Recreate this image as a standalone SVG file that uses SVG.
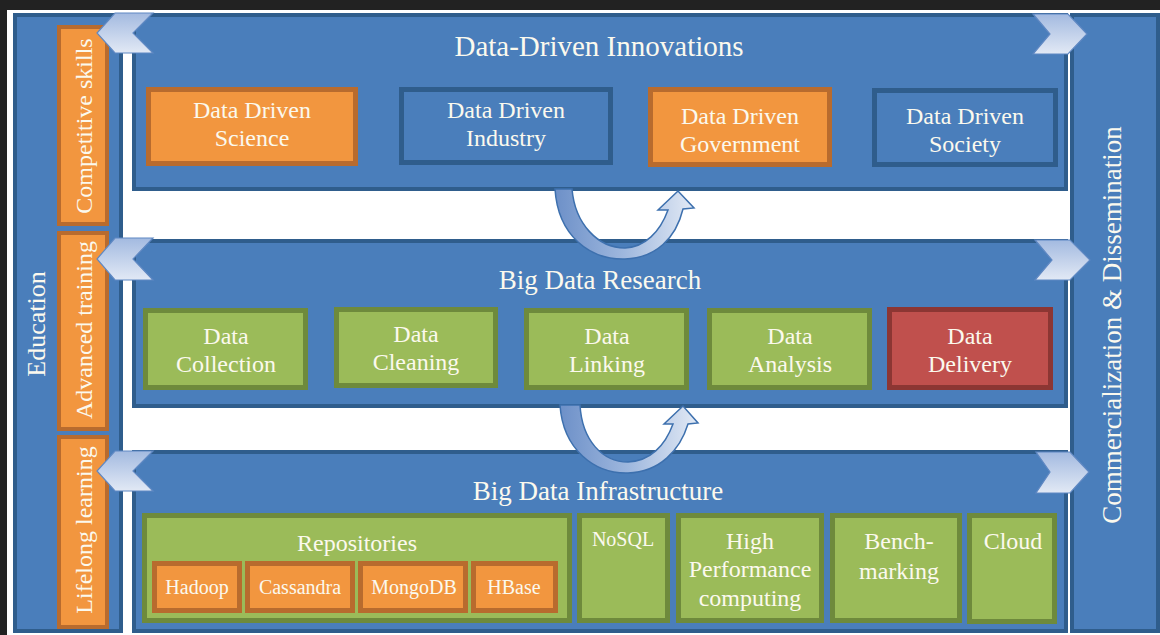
<svg xmlns="http://www.w3.org/2000/svg" width="1160" height="635" viewBox="0 0 1160 635">
<defs>
<linearGradient id="chev" x1="0" y1="0" x2="0" y2="1">
<stop offset="0" stop-color="#a3bae0"/>
<stop offset="1" stop-color="#e2e9f5"/>
</linearGradient>
<linearGradient id="uarr" x1="0" y1="0" x2="1" y2="0">
<stop offset="0" stop-color="#6d90c8"/>
<stop offset="0.5" stop-color="#9fb8de"/>
<stop offset="1" stop-color="#e3eaf5"/>
</linearGradient>
<style>
.panel{fill:#4a7ebb;stroke:#2f5d8c;stroke-width:4}
.col{fill:#4a7ebb;stroke:#2f5d8c;stroke-width:4}
.blue{fill:#4a7ebb;stroke:#2f5d8c;stroke-width:5}
.orange{fill:#f2963f;stroke:#b86b2e;stroke-width:5}
.green{fill:#9bbb59;stroke:#6e8a3c;stroke-width:5}
.red{fill:#c0504d;stroke:#8c3633;stroke-width:5}
.chev{fill:url(#chev);stroke:#5f88c3;stroke-width:1.2}
.uarr{fill:url(#uarr);stroke:#3d70ae;stroke-width:1.5}
text{font-family:"Liberation Serif","Times New Roman",serif;fill:#fbf9ee;text-anchor:middle}
.t{font-size:24px}
.s{font-size:20px}
.h{font-size:27px}
</style>
</defs>
<rect x="0" y="0" width="1160" height="635" fill="#222222"/>
<rect x="7" y="10" width="1153" height="625" fill="#ffffff"/>

<g id="education">
<rect class="col" x="15" y="15" width="106" height="616"/>
<text class="t" style="font-size:26px" transform="translate(45,324) rotate(-90)">Education</text>
</g>
<g id="competitive-skills">
<rect class="orange" x="59" y="27" width="48" height="197" style="stroke-width:4"/>
<text class="t" transform="translate(92,126) rotate(-90)">Competitive skills</text>
</g>
<g id="advanced-training">
<rect class="orange" x="59" y="233" width="48" height="196" style="stroke-width:4"/>
<text class="t" transform="translate(92,330) rotate(-90)">Advanced training</text>
</g>
<g id="lifelong-learning">
<rect class="orange" x="59" y="437" width="48" height="190" style="stroke-width:4"/>
<text class="t" transform="translate(92,530) rotate(-90)">Lifelong learning</text>
</g>

<g id="commercialization">
<rect class="col" x="1072" y="15" width="86" height="616"/>
<text class="t" style="font-size:27px" transform="translate(1121,325) rotate(-90)">Commercialization &amp; Dissemination</text>
</g>

<g id="data-driven-innovations">
<rect class="panel" x="134" y="15" width="932" height="174"/>
<text class="h" style="font-size:29px" x="599" y="56">Data-Driven Innovations</text>
</g>
<g id="big-data-research">
<rect class="panel" x="134" y="241" width="932" height="165"/>
<text class="h" x="600" y="289">Big Data Research</text>
</g>
<g id="big-data-infrastructure">
<rect class="panel" x="134" y="452" width="932" height="179"/>
<text class="h" x="598" y="500">Big Data Infrastructure</text>
</g>

<g id="dd-science">
<rect class="orange" x="148.5" y="89.5" width="207" height="74"/>
<text class="t" x="252" y="118">Data Driven</text>
<text class="t" x="252" y="146">Science</text>
</g>
<g id="dd-industry">
<rect class="blue" x="401.5" y="89.5" width="209" height="73"/>
<text class="t" x="506" y="118">Data Driven</text>
<text class="t" x="506" y="146">Industry</text>
</g>
<g id="dd-government">
<rect class="orange" x="650.5" y="89.5" width="179" height="75"/>
<text class="t" x="740" y="124">Data Driven</text>
<text class="t" x="740" y="152">Government</text>
</g>
<g id="dd-society">
<rect class="blue" x="874.5" y="90.5" width="181" height="74"/>
<text class="t" x="965" y="124">Data Driven</text>
<text class="t" x="965" y="152">Society</text>
</g>

<g id="data-collection">
<rect class="green" x="145.5" y="310.5" width="160" height="77"/>
<text class="t" x="226" y="344">Data</text>
<text class="t" x="226" y="372">Collection</text>
</g>
<g id="data-cleaning">
<rect class="green" x="336.5" y="309.5" width="159" height="76"/>
<text class="t" x="416" y="342">Data</text>
<text class="t" x="416" y="370">Cleaning</text>
</g>
<g id="data-linking">
<rect class="green" x="526.5" y="310.5" width="160" height="77"/>
<text class="t" x="607" y="344">Data</text>
<text class="t" x="607" y="372">Linking</text>
</g>
<g id="data-analysis">
<rect class="green" x="709.5" y="310.5" width="160" height="77"/>
<text class="t" x="790" y="344">Data</text>
<text class="t" x="790" y="372">Analysis</text>
</g>
<g id="data-delivery">
<rect class="red" x="889.5" y="309.5" width="161" height="78"/>
<text class="t" x="970" y="344">Data</text>
<text class="t" x="970" y="372">Delivery</text>
</g>

<g id="repositories">
<rect class="green" x="144.5" y="515.5" width="425" height="105"/>
<text class="t" x="357" y="551">Repositories</text>
</g>
<g id="hadoop">
<rect class="orange" x="154.5" y="563.5" width="85" height="47"/>
<text class="s" x="197" y="594">Hadoop</text>
</g>
<g id="cassandra">
<rect class="orange" x="247.5" y="563.5" width="105" height="47"/>
<text class="s" x="300" y="594">Cassandra</text>
</g>
<g id="mongodb">
<rect class="orange" x="360.5" y="563.5" width="105" height="47"/>
<text class="s" x="414" y="594">MongoDB</text>
</g>
<g id="hbase">
<rect class="orange" x="473.5" y="563.5" width="82" height="47"/>
<text class="s" x="514" y="594">HBase</text>
</g>
<g id="nosql">
<rect class="green" x="579.5" y="515.5" width="88" height="105"/>
<text class="s" x="623" y="546">NoSQL</text>
</g>
<g id="hpc">
<rect class="green" x="678.5" y="515.5" width="143" height="105"/>
<text class="t" x="750" y="549">High</text>
<text class="t" x="750" y="577">Performance</text>
<text class="t" x="750" y="606">computing</text>
</g>
<g id="benchmarking">
<rect class="green" x="832.5" y="515.5" width="127" height="105"/>
<text class="t" x="899" y="549">Bench-</text>
<text class="t" x="899" y="579">marking</text>
</g>
<g id="cloud">
<rect class="green" x="969.5" y="515.5" width="85" height="106"/>
<text class="t" x="1013" y="549">Cloud</text>
</g>

<g id="connectors">
<polygon class="chev" points="115,13 153,13 133,33 153,53 115,53 97,33"/>
<polygon class="chev" points="115,238 153,238 133,259 153,280 115,280 97,259"/>
<polygon class="chev" points="115,451 153,451 133,471 153,491 115,491 97,471"/>
<polygon class="chev" points="1033,14 1068,14 1087,34 1068,54 1033,54 1050,34"/>
<polygon class="chev" points="1035,240 1070,240 1090,260 1070,280 1035,280 1052,260"/>
<polygon class="chev" points="1036,452 1070,452 1089,472 1070,493 1036,493 1050,472"/>
<path class="uarr" d="M555,189 C558,236 590,260 625,259 C656,258 676,238 683,209 L694,208 L678,191 L658,210 L668,210 C660,232 645,247 625,248 C598,248 575,224 572,189 Z"/>
<path class="uarr" d="M560,405 C563,450 595,474 628,473 C660,472 680,450 688,424 L698,423 L683,406 L664,424 L673,424 C665,446 650,461 628,462 C602,462 582,440 580,405 Z"/>
</g>
</svg>
